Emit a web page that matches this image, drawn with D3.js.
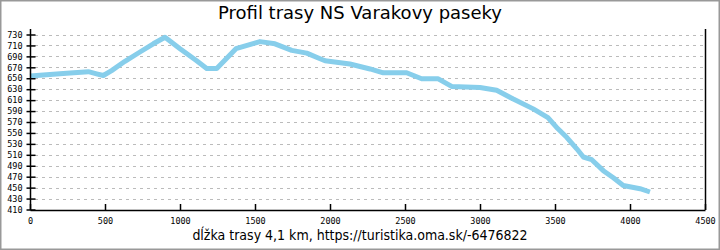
<!DOCTYPE html>
<html>
<head>
<meta charset="utf-8">
<script src="https://cdn.jsdelivr.net/npm/d3@7"></script>
<style>
  body { margin: 0; background: #fff; }
  svg { display: block; }
</style>
</head>
<body>
<div id="chart-area"></div>
<script>
// distance along the route (m) and elevation (m a.s.l.)
const distance = [0, 133, 244, 389, 444, 489, 544, 633, 733, 822, 900, 1000, 1111, 1178, 1245,
  1373, 1533, 1633, 1745, 1845, 1922, 1967, 2133, 2267, 2355, 2511, 2611, 2722, 2811, 3000,
  3111, 3222, 3355, 3453, 3511, 3578, 3645, 3689, 3745, 3822, 3889, 3955, 4067, 4133];
const elevation = [654, 657, 659, 662, 658, 655, 664, 681, 698, 713, 725, 704, 682, 668, 668,
  704, 717, 713, 701, 696, 687, 682, 676, 667, 660, 660, 649, 649, 635, 633,
  628, 612, 594, 578, 560, 542, 521, 506, 501, 481, 468, 454, 448, 442];
const xTicks = [0, 500, 1000, 1500, 2000, 2500, 3000, 3500, 4000, 4500];
const yTicks = [410, 430, 450, 470, 490, 510, 530, 550, 570, 590, 610, 630, 650, 670, 690, 710, 730];
const title = "Profil trasy NS Varakovy paseky";
const footer = "dĺžka trasy 4,1 km, https://turistika.oma.sk/-6476822";

const W = 720, H = 250;
let svg = d3.select('#chart-area')
            .append('svg')
            .attr('width', W)
            .attr('height', H);

// outer frame
svg.append('rect')
   .attr('x', 0.5).attr('y', 0.5)
   .attr('width', W - 1).attr('height', H - 1)
   .attr('fill', '#fff')
   .attr('stroke', '#999')
   .attr('stroke-width', 2);

let x = d3.scaleLinear().domain([0, 4500]).range([30, 705]);
let y = d3.scaleLinear().domain([410, 730]).range([209.5, 34.5]);

// dashed grid
svg.append('g')
   .selectAll('line')
   .data(yTicks)
   .enter()
   .append('line')
   .attr('x1', x(0) + 5).attr('x2', x(4500))
   .attr('y1', d => Math.round(y(d)) + 0.5)
   .attr('y2', d => Math.round(y(d)) + 0.5)
   .attr('stroke', '#bbb')
   .attr('stroke-dasharray', '3,4');

// elevation profile
let line = d3.line()
             .x((d, i) => x(distance[i]))
             .y(d => y(d));
svg.append('path')
   .datum(elevation)
   .attr('d', line)
   .attr('fill', 'none')
   .attr('stroke', '#87ceeb')
   .attr('stroke-width', 5)
   .attr('stroke-linejoin', 'round');

// y axis
let yAxis = d3.axisLeft(y).tickValues(yTicks).tickSizeInner(4).tickSizeOuter(0);
let gy = svg.append('g').attr('transform', 'translate(30.5,0)').call(yAxis);
gy.select('.domain').attr('d', 'M0,29V210').attr('stroke', '#000').attr('stroke-width', 1.5);
gy.selectAll('.tick line').attr('x1', -4).attr('x2', 5).attr('stroke-width', 1.5);
gy.selectAll('.tick text')
  .attr('x', -8)
  .attr('font-family', 'DejaVu Sans Mono, monospace')
  .attr('font-size', 8.5)
  .attr('fill', '#000');

// x axis
let xAxis = d3.axisBottom(x).tickValues(xTicks).tickFormat(d3.format('d'))
              .tickSizeInner(-6).tickSizeOuter(0);
let gx = svg.append('g').attr('transform', 'translate(0,210)').call(xAxis);
gx.select('.domain').attr('stroke', '#000').attr('stroke-width', 1.5);
gx.selectAll('.tick line').attr('stroke-width', 1.5);
gx.selectAll('.tick text')
  .attr('y', 8)
  .attr('font-family', 'DejaVu Sans Mono, monospace')
  .attr('font-size', 8.5)
  .attr('fill', '#000');

// right border of plot
svg.append('line')
   .attr('x1', x(4500) + 0.5).attr('x2', x(4500) + 0.5)
   .attr('y1', 29).attr('y2', 210)
   .attr('stroke', '#000').attr('stroke-width', 1.5);

// titles
svg.append('text')
   .attr('x', W / 2).attr('y', 19)
   .attr('text-anchor', 'middle')
   .attr('font-family', 'DejaVu Sans, sans-serif')
   .attr('font-size', 18)
   .text(title);

svg.append('text')
   .attr('x', W / 2).attr('y', 240)
   .attr('text-anchor', 'middle')
   .attr('font-family', 'DejaVu Sans Condensed, DejaVu Sans, sans-serif')
   .attr('font-stretch', 'condensed')
   .attr('font-size', 14)
   .text(footer);
</script>
</body>
</html>
